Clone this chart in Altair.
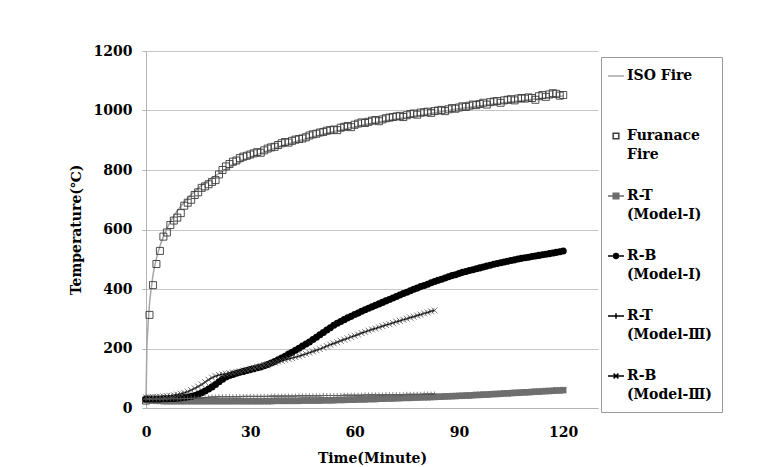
import altair as alt
import pandas as pd

SERIES = ["ISO Fire", "Furanace Fire", "R-T (Model-Ⅰ)", "R-B (Model-Ⅰ)",
          "R-T (Model-Ⅲ)", "R-B (Model-Ⅲ)"]

# ISO standard fire curve
iso_time = [0, 0.25, 0.5, 0.75, 1, 1.5, 2, 2.5, 3, 4, 5, 6, 7, 8, 10, 12, 15,
            20, 25, 30, 35, 40, 45, 50, 60, 70, 80, 90, 100, 110, 120]
iso_temp = [20, 199, 261, 307, 349, 400, 445, 477, 502, 544, 576, 603, 626, 645,
            678, 705, 739, 781, 815, 842, 865, 885, 902, 918, 945, 968, 986,
            1006, 1022, 1036, 1049]

# one reading per minute
minutes = list(range(121))
furnace = [25, 313, 413, 484, 528, 576, 590, 615, 630, 640,
           655, 680, 690, 700, 716, 725, 740, 745, 752, 760,
           766, 785, 800, 812, 820, 828, 832, 840, 845, 848,
           852, 856, 860, 858, 866, 872, 876, 878, 884, 890,
           894, 892, 898, 902, 904, 906, 910, 916, 920, 922,
           926, 928, 932, 934, 936, 934, 942, 945, 948, 944,
           952, 956, 960, 958, 962, 966, 968, 964, 970, 974,
           976, 978, 980, 982, 978, 984, 988, 990, 986, 993,
           994, 996, 992, 998, 1000, 1002, 998, 1004, 1008, 1006,
           1010, 1014, 1012, 1016, 1020, 1018, 1022, 1026, 1020, 1028,
           1030, 1032, 1026, 1034, 1036, 1038, 1034, 1040, 1042, 1040,
           1044, 1042, 1036, 1048, 1052, 1046, 1054, 1058, 1056, 1050,
           1052]
rt_model1 = [27, 26, 25, 24, 24, 23, 23, 23, 23, 23,
             23, 23, 23, 23, 23, 23, 23, 23, 23, 23,
             23, 23, 23, 23, 23, 23, 23, 23, 23, 23,
             23, 23, 23, 23, 23, 23, 23, 24, 24, 24,
             24, 24, 24, 24, 24, 25, 25, 25, 25, 25,
             25, 26, 26, 26, 26, 27, 27, 27, 28, 28,
             28, 29, 29, 29, 30, 30, 30, 31, 31, 32,
             32, 32, 33, 33, 34, 34, 34, 35, 35, 36,
             36, 36, 37, 37, 38, 38, 39, 39, 40, 40,
             41, 41, 42, 42, 43, 44, 44, 45, 45, 46,
             47, 47, 48, 49, 49, 50, 51, 51, 52, 53,
             53, 54, 55, 55, 56, 57, 57, 58, 59, 59,
             60]
rb_model1 = [30, 30, 30, 30, 30, 31, 31, 32, 32, 33,
             34, 35, 37, 39, 42, 46, 51, 57, 64, 71,
             79, 88, 97, 104, 109, 113, 117, 120, 123, 126,
             129, 132, 135, 138, 142, 146, 151, 156, 162, 168,
             174, 181, 187, 194, 201, 208, 215, 222, 230, 238,
             246, 254, 262, 270, 278, 285, 291, 297, 303, 308,
             314, 319, 325, 330, 335, 340, 345, 350, 355, 360,
             365, 370, 375, 380, 385, 389, 394, 399, 403, 408,
             412, 416, 421, 425, 429, 433, 437, 441, 445, 448,
             452, 456, 459, 462, 465, 468, 471, 474, 477, 480,
             483, 486, 488, 491, 493, 496, 498, 501, 503, 505,
             507, 509, 511, 513, 515, 517, 519, 521, 523, 525,
             528]

minutes_m3 = list(range(84))
rt_model3 = [30, 30, 30, 30, 30, 30, 30, 31, 31, 31,
             31, 32, 32, 33, 33, 34, 34, 35, 36, 37,
             37, 38, 38, 38, 38, 38, 38, 38, 39, 39,
             39, 39, 39, 39, 39, 39, 40, 40, 40, 40,
             40, 40, 40, 40, 41, 41, 41, 41, 41, 41,
             41, 42, 42, 42, 42, 42, 42, 43, 43, 43,
             43, 43, 43, 44, 44, 44, 44, 44, 44, 45,
             45, 45, 45, 45, 45, 46, 46, 46, 46, 46,
             47, 47, 47, 47]
rb_model3 = [36, 36, 37, 37, 38, 39, 40, 41, 43, 45,
             48, 51, 55, 60, 66, 72, 79, 87, 95, 102,
             107, 111, 113, 115, 117, 119, 121, 123, 126, 129,
             132, 135, 138, 141, 144, 147, 150, 153, 156, 159,
             162, 165, 168, 171, 174, 178, 182, 186, 190, 194,
             198, 203, 208, 213, 217, 221, 226, 230, 234, 239,
             243, 247, 252, 256, 260, 264, 267, 271, 275, 279,
             282, 286, 290, 293, 297, 300, 304, 307, 311, 314,
             318, 321, 325, 328]

x_ticks = [0, 30, 60, 90, 120]
y_ticks = [0, 200, 400, 600, 800, 1000, 1200]

rows = []
for name, ts, vs in [(SERIES[0], iso_time, iso_temp),
                     (SERIES[1], minutes, furnace),
                     (SERIES[2], minutes, rt_model1),
                     (SERIES[3], minutes, rb_model1),
                     (SERIES[4], minutes_m3, rt_model3),
                     (SERIES[5], minutes_m3, rb_model3)]:
    for t, v in zip(ts, vs):
        rows.append({"series": name, "t": t, "T": v})
df = pd.DataFrame(rows)

x = alt.X("t:Q", scale=alt.Scale(domain=[0, 130], nice=False),
          axis=alt.Axis(values=x_ticks, title="Time(Minute)", grid=False, format="d",
                        ticks=False, labelPadding=17, titlePadding=12, labelFlush=False))
y = alt.Y("T:Q", scale=alt.Scale(domain=[0, 1200], nice=False),
          axis=alt.Axis(values=y_ticks, title="Temperature(℃)", grid=True, format="d",
                        tickSize=4, labelPadding=10, titlePadding=10, labelFlush=False))

base = alt.Chart(df).encode(x=x, y=y)


def sel(name):
    return base.transform_filter(alt.datum.series == name)


iso = sel(SERIES[0]).mark_line(color="#a6a6a6", strokeWidth=1.5, interpolate="monotone")
fur = sel(SERIES[1]).mark_point(shape="square", size=49, filled=False, color="#3a3a3a",
                                strokeWidth=0.9, opacity=1)
rt1_line = sel(SERIES[2]).mark_line(color="#6e6e6e", strokeWidth=1.5)
rt1_pt = sel(SERIES[2]).mark_point(shape="square", size=42, filled=True, color="#6e6e6e", opacity=1)
rb1_line = sel(SERIES[3]).mark_line(color="#000000", strokeWidth=1.5)
rb1_pt = sel(SERIES[3]).mark_point(shape="circle", size=50, filled=True, color="#000000", opacity=1)
rt3_line = sel(SERIES[4]).mark_line(color="#000000", strokeWidth=1)
rt3_pt = sel(SERIES[4]).mark_point(shape="M0,-1V1M-1,0H1", size=25, filled=False,
                                   color="#666666", strokeWidth=0.8, opacity=1)
rb3_line = sel(SERIES[5]).mark_line(color="#000000", strokeWidth=1.5)
rb3_pt = sel(SERIES[5]).mark_point(shape="M-1,-1L1,1M-1,1L1,-1", size=36, filled=False,
                                   color="#555555", strokeWidth=0.8, opacity=1)

shape_paths = ["M-1,0H1",
               "M-0.35,-0.35H0.35V0.35H-0.35Z",
               "M-1,0H1M-0.35,-0.35H0.35V0.35H-0.35Z",
               "M-1,0H1M0.3,0A0.3,0.3 0 1,1 -0.3,0A0.3,0.3 0 1,1 0.3,0Z",
               "M-1,0H1M0,-0.35V0.35",
               "M-1,0H1M-0.3,-0.3L0.3,0.3M-0.3,0.3L0.3,-0.3"]
stroke_colors = ["#a6a6a6", "#3a3a3a", "#6e6e6e", "#000000", "#000000", "#000000"]
fill_colors = ["transparent", "#ffffff", "#6e6e6e", "#000000", "transparent", "transparent"]

label_expr = "datum.label == 'ISO Fire' ? ['ISO Fire', ''] : split(datum.label, ' ')"

leg = alt.Legend(title=None, orient="none", legendX=455, legendY=6, direction="vertical",
                 strokeColor="#9a9a9a", fillColor="white", padding=10, symbolOffset=-4,
                 symbolSize=256, symbolStrokeWidth=1.5,
                 labelFont="DejaVu Serif", labelFontWeight="bold", labelFontSize=14,
                 labelColor="black", labelOffset=2, rowPadding=25, labelBaseline="middle",
                 labelExpr=label_expr, labelLimit=200)

legend_layer = base.transform_filter("datum.t < 0").mark_point(
    filled=True, opacity=1, size=256, strokeWidth=1.5
).encode(
    shape=alt.Shape("series:N", scale=alt.Scale(domain=SERIES, range=shape_paths), legend=leg),
    stroke=alt.Stroke("series:N", scale=alt.Scale(domain=SERIES, range=stroke_colors), legend=leg),
    fill=alt.Fill("series:N", scale=alt.Scale(domain=SERIES, range=fill_colors), legend=leg),
)

chart = alt.layer(
    iso, fur, rt1_line, rt1_pt, rb1_line, rb1_pt, rt3_line, rt3_pt, rb3_line, rb3_pt, legend_layer
).properties(
    width=452, height=357,
    autosize=alt.AutoSizeParams(type="none"),
    padding={"left": 138, "top": 43, "right": 150, "bottom": 58},
).configure(
    style={"guide-label": {"lineHeight": 19}}
).configure_view(
    stroke=None
).configure_axis(
    labelFont="DejaVu Serif", labelFontWeight="bold", labelFontSize=14, labelColor="black",
    titleFont="DejaVu Serif", titleFontWeight="bold", titleFontSize=14, titleColor="black",
    domainColor="#b3b3b3", tickColor="#b3b3b3", gridColor="#c6c6c6"
)

chart.save("out.html", embed_options={"renderer": "svg", "actions": False})
